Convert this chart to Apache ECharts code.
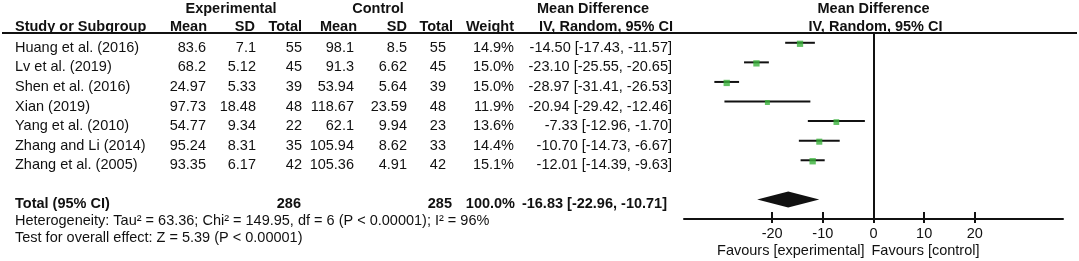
<!DOCTYPE html>
<html>
<head>
<meta charset="utf-8">
<script src="https://cdn.jsdelivr.net/npm/echarts@6/dist/echarts.min.js"></script>
<style>
html,body{margin:0;padding:0;background:#fff;}
#chart{width:1079px;height:261px;}
</style>
</head>
<body>
<div id="chart"></div>
<script>
// ---------------- data ----------------
const studies = ['Huang et al. (2016)', 'Lv et al. (2019)', 'Shen et al. (2016)', 'Xian (2019)', 'Yang et al. (2010)', 'Zhang and Li (2014)', 'Zhang et al. (2005)'];
const expMean = ['83.6', '68.2', '24.97', '97.73', '54.77', '95.24', '93.35'];
const expSD = ['7.1', '5.12', '5.33', '18.48', '9.34', '8.31', '6.17'];
const expN = [55, 45, 39, 48, 22, 35, 42];
const ctlMean = ['98.1', '91.3', '53.94', '118.67', '62.1', '105.94', '105.36'];
const ctlSD = ['8.5', '6.62', '5.64', '23.59', '9.94', '8.62', '4.91'];
const ctlN = [55, 45, 39, 48, 23, 33, 42];
const weights = [14.9, 15.0, 15.0, 11.9, 13.6, 14.4, 15.1];
const md = [-14.50, -23.10, -28.97, -20.94, -7.33, -10.70, -12.01];
const ciLow = [-17.43, -25.55, -31.41, -29.42, -12.96, -14.73, -14.39];
const ciHigh = [-11.57, -20.65, -26.53, -12.46, -1.70, -6.67, -9.63];
const totalLabel = 'Total (95% CI)';
const totalExpN = 286;
const totalCtlN = 285;
const totalWeight = 100.0;
const totalMD = -16.83, totalLow = -22.96, totalHigh = -10.71;
const heterogeneityText = 'Heterogeneity: Tau\u00b2 = 63.36; Chi\u00b2 = 149.95, df = 6 (P < 0.00001); I\u00b2 = 96%';
const overallText = 'Test for overall effect: Z = 5.39 (P < 0.00001)';
const xTicks = [-20, -10, 0, 10, 20];
const favoursLeft = 'Favours [experimental]';
const favoursRight = 'Favours [control]';

// ---------------- style / layout ----------------
const FONT = '"Liberation Sans", Arial, Helvetica, sans-serif';
const FS = 14.5;
const TXT = '#111';
const GREEN = '#38b239';
const TOTAL_ROW = 8;

const fmt2 = v => (v < 0 ? '-' : '') + Math.abs(v).toFixed(2);
const ciText = (m, l, h) => fmt2(m) + ' [' + fmt2(l) + ', ' + fmt2(h) + ']';

const chart = echarts.init(document.getElementById('chart'), null, {renderer: 'canvas'});

const ciData = studies.map((s, i) => [ciLow[i], ciHigh[i], i]);
const pointData = studies.map((s, i) => ({value: [md[i], i], symbolSize: weights[i] * 0.42}));

chart.setOption({
  animation: false,
  grid: {left: 684, right: 16, top: 33, bottom: 42, containLabel: false},
  xAxis: [{
    type: 'value', min: -37.4, max: 37.4, position: 'bottom', offset: 0,
    axisLine: {show: true, onZero: false, lineStyle: {color: TXT, width: 2}},
    axisTick: {show: true, inside: false, length: 4, customValues: xTicks, lineStyle: {color: TXT, width: 2}},
    axisLabel: {show: true, customValues: xTicks, margin: 7, color: TXT, fontSize: FS, fontFamily: FONT},
    splitLine: {show: false}
  }, {
    type: 'value', min: -37.4, max: 37.4, position: 'bottom', offset: 0,
    axisLine: {show: true, onZero: false, lineStyle: {color: TXT, width: 2, opacity: 0}},
    axisTick: {show: true, inside: true, length: 7, customValues: xTicks, lineStyle: {color: TXT, width: 2}},
    axisLabel: {show: false},
    splitLine: {show: false}
  }],
  yAxis: {
    type: 'value', min: -0.5, max: 9, inverse: true,
    axisLine: {show: false}, axisTick: {show: false}, axisLabel: {show: false}, splitLine: {show: false}
  },
  series: [{
    type: 'custom',
    name: 'ci',
    data: ciData,
    renderItem: function (params, api) {
      const p1 = api.coord([api.value(0), api.value(2)]);
      const p2 = api.coord([api.value(1), api.value(2)]);
      return {type: 'line', shape: {x1: p1[0], y1: p1[1], x2: p2[0], y2: p2[1]},
        style: {stroke: TXT, lineWidth: 2}};
    },
    z: 3
  }, {
    type: 'scatter',
    name: 'md',
    data: pointData,
    symbol: 'rect',
    symbolOffset: [0, 1],
    itemStyle: {color: GREEN},
    z: 4,
    markLine: {
      silent: true, symbol: ['none', 'none'], label: {show: false},
      lineStyle: {color: TXT, width: 2, type: 'solid'},
      data: [{xAxis: 0}]
    }
  }, {
    type: 'custom',
    name: 'total',
    data: [[totalLow, totalMD, totalHigh, TOTAL_ROW]],
    renderItem: function (params, api) {
      const y = api.value(3);
      const l = api.coord([api.value(0), y]);
      const m = api.coord([api.value(1), y]);
      const h = api.coord([api.value(2), y]);
      const hh = 8;
      return {type: 'polygon', shape: {points: [[l[0], l[1]], [m[0], m[1] - hh], [h[0], h[1]], [m[0], m[1] + hh]]},
        style: {fill: '#111'}};
    },
    z: 3
  }]
});

// ---------------- table texts ----------------
const rowY = i => chart.convertToPixel({yAxisIndex: 0}, i);
const zeroX = chart.convertToPixel({xAxisIndex: 0}, 0);

function txt(text, x, y, align, bold) {
  return {type: 'text', silent: true, z: 10,
    style: {text: String(text), x: x, y: y, textAlign: align, align: align, textVerticalAlign: 'middle', verticalAlign: 'middle',
      fontSize: FS, fontFamily: FONT, fontWeight: bold ? 'bold' : 'normal', fill: TXT}};
}

const cols = {name: 15, eMean: 206, eSD: 256, eN: 302, cMean: 354, cSD: 407, cN: 446, w: 514, ci: 672};
const g = [];
g.push({type: 'line', silent: true, shape: {x1: 2, y1: 33, x2: 1077, y2: 33}, style: {stroke: TXT, lineWidth: 2}});
const h1 = 9, h2 = 26.5;
g.push(txt('Experimental', 231, h1, 'center', true));
g.push(txt('Control', 378, h1, 'center', true));
g.push(txt('Mean Difference', 593, h1, 'center', true));
g.push(txt('Mean Difference', zeroX, h1, 'center', true));
g.push(txt('Study or Subgroup', 15, h2, 'left', true));
g.push(txt('Mean', 207, h2, 'right', true));
g.push(txt('SD', 255, h2, 'right', true));
g.push(txt('Total', 302, h2, 'right', true));
g.push(txt('Mean', 357, h2, 'right', true));
g.push(txt('SD', 407, h2, 'right', true));
g.push(txt('Total', 453, h2, 'right', true));
g.push(txt('Weight', 514, h2, 'right', true));
g.push(txt('IV, Random, 95% CI', 606, h2, 'center', true));
g.push(txt('IV, Random, 95% CI', zeroX + 2, h2, 'center', true));

studies.forEach((s, i) => {
  const y = rowY(i) + 5;
  g.push(txt(s, cols.name, y, 'left'));
  g.push(txt(expMean[i], cols.eMean, y, 'right'));
  g.push(txt(expSD[i], cols.eSD, y, 'right'));
  g.push(txt(expN[i], cols.eN, y, 'right'));
  g.push(txt(ctlMean[i], cols.cMean, y, 'right'));
  g.push(txt(ctlSD[i], cols.cSD, y, 'right'));
  g.push(txt(ctlN[i], cols.cN, y, 'right'));
  g.push(txt(weights[i].toFixed(1) + '%', cols.w, y, 'right'));
  g.push(txt(ciText(md[i], ciLow[i], ciHigh[i]), cols.ci, y, 'right'));
});

const ty = rowY(TOTAL_ROW) + 4.5;
g.push(txt(totalLabel, cols.name, ty, 'left', true));
g.push(txt(totalExpN, 301, ty, 'right', true));
g.push(txt(totalCtlN, 452, ty, 'right', true));
g.push(txt(totalWeight.toFixed(1) + '%', 515, ty, 'right', true));
g.push(txt(ciText(totalMD, totalLow, totalHigh), 667, ty, 'right', true));
g.push(txt(heterogeneityText, cols.name, ty + 17.5, 'left'));
g.push(txt(overallText, cols.name, ty + 34, 'left'));

g.push(txt(favoursLeft, zeroX - 9, 251, 'right'));
g.push(txt(favoursRight, zeroX - 2, 251, 'left'));

chart.setOption({graphic: g});
</script>
</body>
</html>
